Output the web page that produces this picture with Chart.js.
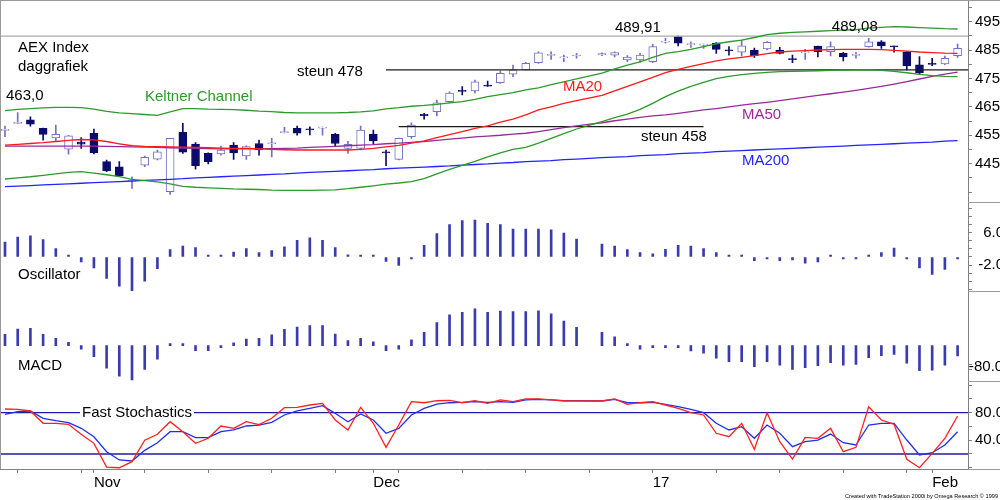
<!DOCTYPE html>
<html>
<head>
<meta charset="utf-8">
<script src="https://cdn.jsdelivr.net/npm/chart.js@4.4.1/dist/chart.umd.min.js"></script>
<style>
  html, body { margin: 0; padding: 0; background: #fff; overflow: hidden; }
  #wrap { width: 1004px; height: 500px; }
</style>
</head>
<body>
<div id="wrap"><canvas id="aex" width="1004" height="500"></canvas></div>
<script>
// AEX Index daily chart, 21 Oct 2016 - 3 Feb 2017
// slot 46 is 26 Dec (exchange closed), so it stays empty

const open = [456.7, 459.2, 460.4, 457.4, 454.1, 450.1, 452.6, 455.7, 445.7, 443.9,
  438.9, 444.5, 446.6, 435.1, 456.0, 451.9, 448.6, 448.4, 451.5, 447.7,
  452.1, 452.0, 455.9, 457.4, 457.3, 457.5, 455.3, 450.4, 450.4, 455.4,
  449.2, 446.5, 454.5, 462.4, 463.3, 466.8, 470.8, 470.6, 472.4, 473.5,
  476.5, 478.0, 480.5, 483.1, 482.2, 482.9, null, 483.3, 483.2, 481.5,
  481.5, 480.9, 487.8, 489.7, 486.9, 486.7, 487.4, 485.0, 484.2, 485.0,
  485.4, 485.0, 482.0, 484.0, 486.4, 484.4, 483.8, 483.1, 486.2, 487.9,
  486.3, 484.4, 479.8, 480.3, 480.1, 483.0];
const high = [458.2, 463.0, 461.5, 457.5, 458.6, 455.0, 454.2, 457.2, 446.3, 445.7,
  440.4, 447.7, 449.8, 453.9, 459.2, 452.4, 448.8, 451.2, 452.4, 451.3,
  453.3, 453.9, 457.8, 458.2, 458.0, 457.9, 455.7, 452.9, 458.2, 456.8,
  449.8, 454.0, 459.4, 462.7, 467.4, 470.3, 472.1, 474.4, 474.1, 477.6,
  479.7, 480.7, 484.4, 484.4, 483.2, 483.8, null, 484.0, 484.4, 483.0,
  483.8, 487.0, 489.1, 489.91, 487.9, 487.1, 487.6, 486.2, 488.5, 485.7,
  488.0, 485.9, 483.2, 485.2, 486.4, 487.9, 484.2, 484.2, 489.08, 488.3,
  486.4, 484.5, 482.7, 482.1, 482.9, 487.1];
const low = [454.5, 459.1, 458.2, 453.3, 452.7, 448.3, 450.4, 448.4, 442.2, 440.4,
  436.3, 443.9, 446.3, 434.2, 448.6, 443.1, 444.9, 448.0, 446.5, 446.5,
  448.0, 447.4, 455.8, 455.0, 455.1, 455.0, 451.0, 448.6, 449.8, 451.9,
  444.3, 446.3, 453.9, 460.7, 461.8, 466.4, 469.2, 469.8, 472.2, 473.2,
  475.6, 478.0, 480.3, 481.7, 480.9, 482.1, null, 483.0, 482.6, 480.9,
  480.7, 480.5, 487.4, 486.4, 485.9, 485.6, 483.8, 483.2, 482.9, 482.4,
  485.0, 483.6, 480.5, 481.7, 482.6, 482.9, 481.2, 482.1, 486.0, 485.6,
  484.2, 478.0, 476.7, 479.5, 479.8, 482.4];
const close = [456.9, 459.3, 458.9, 455.3, 455.3, 454.8, 451.9, 448.8, 442.5, 440.7,
  439.1, 447.2, 449.2, 453.9, 449.0, 444.3, 445.7, 449.8, 448.8, 451.0,
  449.8, 452.2, 456.0, 455.7, 456.9, 457.7, 452.1, 451.8, 456.8, 453.0,
  448.8, 453.9, 458.6, 461.9, 466.4, 469.8, 470.4, 473.8, 472.3, 476.8,
  478.0, 480.3, 484.0, 483.3, 482.6, 483.1, null, 483.7, 484.1, 482.5,
  483.2, 486.2, 488.0, 487.4, 487.1, 486.9, 485.2, 484.7, 486.5, 483.0,
  487.7, 483.8, 481.6, 484.2, 484.4, 486.2, 482.6, 483.3, 487.9, 486.4,
  486.1, 479.4, 476.9, 479.9, 482.1, 485.6];

const keltnerUpper = [463.7, 464.1, 464.4, 464.6, 464.8, 464.8, 464.7, 464.2, 463.4, 462.9,
  462.6, 462.3, 462.0, 463.2, 464.4, 464.4, 464.2, 464.1, 464.0, 463.8,
  463.5, 463.3, 463.0, 462.9, 462.9, 462.9, 462.9, 463.0, 463.2, 463.6,
  464.3, 464.7, 465.2, 465.5, 465.9, 466.4, 466.8, 467.6, 468.6, 469.3,
  470.0, 471.0, 471.7, 472.8, 473.8, 474.8, null, 476.9, 478.4, 479.7,
  480.8, 482.4, 483.8, 484.4, 485.2, 486.2, 487.2, 487.9, 488.5, 489.4,
  490.4, 490.9, 491.2, 491.4, 491.6, 491.8, 492.0, 492.2, 492.7, 493.0,
  493.2, 493.1, 492.9, 492.7, 492.5, 492.4];
const keltnerLower = [439.6, 440.0, 440.4, 440.9, 441.4, 441.9, 442.2, 441.7, 441.1, 440.4,
  439.5, 439.0, 438.6, 437.9, 437.0, 436.7, 436.5, 436.3, 436.1, 436.0,
  435.9, 435.7, 435.6, 435.6, 435.6, 435.7, 435.8, 436.2, 436.7, 437.2,
  437.8, 438.2, 438.7, 439.7, 441.4, 443.0, 444.4, 445.8, 447.4, 448.8,
  450.0, 450.7, 452.2, 453.9, 455.6, 457.2, null, 459.8, 461.2, 462.4,
  464.1, 466.2, 468.6, 470.5, 472.2, 473.6, 474.9, 475.7, 476.3, 476.8,
  477.1, 477.4, 477.5, 477.6, 477.7, 477.8, 477.9, 478.0, 478.0, 477.8,
  477.5, 477.0, 476.4, 476.0, 475.7, 475.6];
const ma20 = [451.5, 451.8, 452.1, 452.4, 452.8, 453.2, 453.5, 453.4, 452.8, 452.0,
  451.3, 451.1, 451.0, 450.9, 450.8, 450.7, 450.6, 450.5, 450.4, 450.4,
  450.2, 450.0, 449.9, 449.8, 449.8, 449.8, 449.8, 449.8, 450.0, 450.4,
  450.9, 451.4, 452.2, 453.0, 454.2, 455.2, 456.3, 457.4, 458.3, 459.6,
  460.7, 462.2, 463.9, 465.0, 466.2, 467.2, null, 469.0, 470.6, 472.2,
  473.8, 475.4, 477.0, 478.2, 479.2, 480.2, 481.2, 481.9, 482.4, 483.0,
  483.7, 484.3, 484.6, 484.8, 485.0, 485.1, 485.2, 485.2, 485.2, 485.1,
  484.9, 484.6, 484.3, 484.1, 483.9, 483.8];
const ma50 = [451.2, 451.2, 451.2, 451.2, 451.2, 451.2, 451.2, 451.2, 451.1, 451.0,
  450.9, 450.8, 450.7, 450.6, 450.5, 450.4, 450.3, 450.2, 450.2, 450.2,
  450.2, 450.3, 450.4, 450.5, 450.7, 450.9, 451.1, 451.3, 451.5, 451.7,
  452.0, 452.2, 452.5, 452.8, 453.2, 453.6, 454.0, 454.4, 454.7, 455.0,
  455.4, 455.7, 456.3, 457.0, 457.7, 458.3, null, 459.4, 460.1, 460.7,
  461.3, 461.8, 462.2, 462.7, 463.3, 463.9, 464.4, 465.0, 465.6, 466.1,
  466.6, 467.2, 467.8, 468.4, 469.0, 469.6, 470.2, 470.8, 471.5, 472.2,
  473.0, 473.9, 474.8, 475.7, 476.5, 477.2];
const ma200 = [436.9, 437.1, 437.3, 437.5, 437.7, 437.9, 438.1, 438.3, 438.5, 438.7,
  438.9, 439.1, 439.3, 439.5, 439.7, 440.0, 440.2, 440.4, 440.6, 440.8,
  441.0, 441.2, 441.4, 441.7, 441.9, 442.1, 442.3, 442.5, 442.7, 442.9,
  443.2, 443.4, 443.6, 443.8, 444.0, 444.2, 444.5, 444.7, 444.9, 445.2,
  445.4, 445.7, 445.9, 446.1, 446.4, 446.6, null, 447.1, 447.3, 447.5,
  447.8, 448.0, 448.2, 448.5, 448.7, 448.9, 449.2, 449.4, 449.6, 449.8,
  450.0, 450.2, 450.4, 450.6, 450.8, 451.0, 451.2, 451.4, 451.6, 451.8,
  452.0, 452.2, 452.4, 452.6, 452.9, 453.1];

// support lines: level, first slot, last slot
const steunLevels = [478, 458];
const steunFrom = [30, 31];
const steunTo = [75.82, 55];
const topLevel = 489.91;

const oscillator = [3.7, 4.9, 5.2, 4.3, 2.1, 0.3, -1.2, -2.7, -5.3, -7.2,
  -8.6, -6.0, -2.9, 1.8, 2.7, 2.3, 0.4, 0.3, 1.2, 2.1,
  1.1, 1.6, 2.5, 4.1, 4.7, 4.1, 2.3, 0.5, 0.2, 0.2,
  -1.1, -2.1, -0.4, 2.9, 5.8, 8.0, 9.0, 9.1, 8.3, 8.0,
  6.9, 6.9, 6.9, 6.7, 5.9, 4.4, null, 3.2, 2.7, 1.8,
  1.1, 0.8, 1.9, 2.9, 2.7, 2.1, 1.1, 0.3, 0.2, -0.9,
  -0.4, -0.9, -0.7, -1.5, -1.2, 0.2, -0.1, -0.4, 0.1, 1.1,
  2.2, -0.2, -2.7, -4.3, -3.1, -0.2];
const macd = [43, 63, 66, 43, 28, 13, -13, -42, -86, -116,
  -131, -90, -51, 3, 3, -19, -19, -2, 11, 25,
  28, 41, 62, 71, 76, 76, 44, 19, 28, 15,
  -19, -13, 22, 51, 88, 117, 127, 140, 127, 132,
  130, 130, 133, 121, 94, 70, null, 51, 34, 6,
  -13, -3, -2, -4, -20, -29, -48, -61, -61, -80,
  -61, -74, -90, -84, -76, -65, -74, -71, -46, -38,
  -33, -67, -95, -93, -74, -39];
const stochK = [85.4, 84.9, 82.5, 64.6, 64.6, 63.1, 48.6, 35.5, 1.0, 0.0,
  8.8, 40.0, 48.6, 66.9, 52.4, 35.5, 42.8, 60.7, 57.3, 66.9,
  62.6, 71.9, 87.3, 87.8, 91.2, 93.6, 69.4, 54.9, 87.8, 64.6,
  29.7, 62.1, 96.0, 94.5, 97.4, 97.9, 94.5, 97.4, 93.6, 98.5,
  96.0, 100.0, 100.0, 98.5, 97.0, 97.0, null, 97.0, 100.0, 92.2,
  94.5, 96.0, 91.2, 86.4, 80.0, 76.7, 50.1, 45.1, 64.6, 26.8,
  80.0, 37.9, 12.7, 44.2, 42.8, 57.3, 23.3, 29.7, 88.7, 69.4,
  63.1, 12.3, 0.0, 21.0, 42.8, 75.2];
const stochD = [77.7, 81.5, 82.5, 71.9, 68.4, 65.5, 57.3, 45.1, 23.3, 11.3,
  9.8, 25.3, 36.4, 52.4, 52.4, 43.7, 43.7, 52.4, 54.9, 60.7,
  62.1, 66.0, 76.7, 82.5, 86.4, 90.2, 79.1, 66.9, 78.1, 69.4,
  50.1, 57.3, 76.7, 86.4, 92.6, 94.5, 95.0, 96.0, 95.0, 96.0,
  95.0, 98.5, 99.5, 98.5, 97.5, 97.5, null, 97.0, 99.5, 94.5,
  94.5, 95.0, 92.2, 88.7, 84.9, 80.0, 64.6, 54.9, 59.7, 42.8,
  62.1, 50.1, 30.6, 37.9, 40.3, 49.0, 36.4, 33.1, 62.1, 64.6,
  64.6, 40.3, 18.5, 21.9, 33.1, 52.4];
const stochBands = [80, 20];

// x axis: Monday ticks and month starts (slot numbers)
const weekTicks = [1, 6, 11, 16, 21, 26, 31, 36, 41, 46, 51, 56, 61, 66, 71];
const monthTicks = [7, 29, 51, 73];
const monthNames = ['Nov', 'Dec', '17', 'Feb'];

const navy = '#0b0b6e';
const upBlue = '#7272c4';
const barBlue = '#3b3bb0';
const green = '#2b9b2b';
const X_MIN = -0.394, X_MAX = 75.82;

Chart.defaults.font.family = "'Liberation Sans', Arial, sans-serif";
Chart.defaults.font.size = 15;
Chart.defaults.color = '#000';

const pts = arr => arr.map((v, i) => ({ x: i, y: v }));
const isUp = close.map((c, i) => c !== null && c >= open[i]);

function lineSet(values, color, axis, width) {
  return {
    type: 'line', data: pts(values), yAxisID: axis, borderColor: color,
    borderWidth: width || 1.3, pointRadius: 0, spanGaps: true, tension: 0, order: 0
  };
}
function flat(level, from, to, color, axis, width) {
  return {
    type: 'line', data: [{ x: from, y: level }, { x: to, y: level }], yAxisID: axis,
    borderColor: color, borderWidth: width || 1.3, pointRadius: 0, order: 1
  };
}

const datasets = [
  // candle bodies
  {
    type: 'bar', yAxisID: 'yPrice', order: 2, grouped: false,
    data: open.map((o, i) => ({ x: i, y: o === null ? null : [o, close[i]] })),
    backgroundColor: isUp.map(u => u ? '#ffffff' : navy),
    borderColor: isUp.map(u => u ? upBlue : navy),
    borderWidth: 1, borderSkipped: false, barThickness: 8, minBarLength: 1
  },
  // wicks
  {
    type: 'bar', yAxisID: 'yPrice', order: 3, grouped: false,
    data: low.map((l, i) => ({ x: i, y: l === null ? null : [l, high[i]] })),
    backgroundColor: isUp.map(u => u ? upBlue : navy),
    barThickness: 1
  },
  lineSet(keltnerUpper, green, 'yPrice'),
  lineSet(keltnerLower, green, 'yPrice'),
  lineSet(ma20, '#ff1a1a', 'yPrice'),
  lineSet(ma50, '#9a2a9a', 'yPrice'),
  lineSet(ma200, '#2424ff', 'yPrice'),
  flat(topLevel, X_MIN, X_MAX, '#a8a8a8', 'yPrice', 1.2),
  flat(steunLevels[0], steunFrom[0], steunTo[0], '#1a1a1a', 'yPrice', 1.2),
  flat(steunLevels[1], steunFrom[1], steunTo[1], '#1a1a1a', 'yPrice', 1.2),
  {
    type: 'bar', yAxisID: 'yOsc', order: 2, grouped: false, data: pts(oscillator),
    backgroundColor: barBlue, barThickness: 2, minBarLength: 2
  },
  {
    type: 'bar', yAxisID: 'yMacd', order: 2, grouped: false, data: pts(macd),
    backgroundColor: barBlue, barThickness: 2, minBarLength: 2
  },
  flat(stochBands[0], X_MIN, X_MAX, '#1c1ca6', 'yStoch'),
  flat(stochBands[1], X_MIN, X_MAX, '#1c1ca6', 'yStoch'),
  lineSet(stochK, '#ff2020', 'yStoch'),
  lineSet(stochD, '#2030e8', 'yStoch')
];

// text on the chart, anchored at (slot, value) of a panel axis
const notes = [
  { t: 'AEX Index', i: 1.02, v: 485.7, axis: 'yPrice', c: '#000' },
  { t: 'daggrafiek', i: 1.02, v: 479.0, axis: 'yPrice', c: '#000' },
  { t: '463,0', i: 0.08, v: 468.8, axis: 'yPrice', c: '#000' },
  { t: 'Keltner Channel', i: 11.02, v: 468.4, axis: 'yPrice', c: green },
  { t: 'steun 478', i: 22.99, v: 477.2, axis: 'yPrice', c: '#000' },
  { t: '489,91', i: 48.02, v: 492.7, axis: 'yPrice', c: '#000' },
  { t: 'MA20', i: 43.93, v: 472.0, axis: 'yPrice', c: '#ff1a1a' },
  { t: '489,08', i: 65.1, v: 493.1, axis: 'yPrice', c: '#000' },
  { t: 'MA50', i: 58.02, v: 462.1, axis: 'yPrice', c: '#9a2a9a' },
  { t: 'steun 458', i: 50.07, v: 454.4, axis: 'yPrice', c: '#000' },
  { t: 'MA200', i: 58.02, v: 445.9, axis: 'yPrice', c: '#2424ff' },
  { t: 'Oscillator', i: 1.02, v: -4.4, axis: 'yOsc', c: '#000' },
  { t: 'MACD', i: 1.02, v: -77.3, axis: 'yMacd', c: '#000' },
  { t: 'Fast Stochastics', i: 6.06, v: 80.3, axis: 'yStoch', c: '#000', bg: true }
];

const decorate = {
  id: 'decorate',
  afterDatasetsDraw(chart) {
    const { ctx, chartArea, scales } = chart;
    ctx.save();
    ctx.strokeStyle = '#9a9a9a';
    ctx.lineWidth = 1;
    ctx.beginPath();
    ctx.moveTo(0, 0.5); ctx.lineTo(1000, 0.5);
    ctx.moveTo(0.5, 0); ctx.lineTo(0.5, chartArea.bottom);
    ['yOsc', 'yMacd', 'yStoch'].forEach(id => {
      const s = scales[id];
      ctx.moveTo(s.left, Math.round(s.top) + 0.5);
      ctx.lineTo(1000, Math.round(s.top) + 0.5);
    });
    ctx.moveTo(chartArea.right, chartArea.bottom + 0.5); ctx.lineTo(1000, chartArea.bottom + 0.5);
    ctx.stroke();

    ctx.font = "15px 'Liberation Sans', Arial, sans-serif";
    ctx.textBaseline = 'middle';
    ctx.textAlign = 'left';
    notes.forEach(n => {
      const x = scales.x.getPixelForValue(n.i);
      const y = scales[n.axis].getPixelForValue(n.v);
      if (n.bg) {
        const w = ctx.measureText(n.t).width;
        ctx.fillStyle = '#fff';
        ctx.fillRect(x - 2, y - 8, w + 4, 16);
      }
      ctx.fillStyle = n.c;
      ctx.fillText(n.t, x, y);
    });

    ctx.font = "6px 'Liberation Sans', Arial, sans-serif";
    ctx.fillStyle = '#000';
    ctx.textAlign = 'right';
    ctx.fillText('Created with TradeStation 2000i by Omega Research \u00A9 1999', 998, 496, 153);
    ctx.restore();
  }
};

function yAxis(weight, min, max, tickValues, labelled, digits, extra) {
  return Object.assign({
    type: 'linear', position: 'right', stack: 'panels', stackWeight: weight,
    min: min, max: max,
    afterBuildTicks: s => { s.ticks = tickValues.map(v => ({ value: v })); },
    afterFit: s => { s.width = 36; s.paddingTop = 0; s.paddingBottom = 0; },
    grid: { drawOnChartArea: false, tickLength: 4, color: '#808080' },
    border: { color: '#808080' },
    ticks: {
      autoSkip: false, padding: 3,
      callback: v => labelled.includes(v) ? v.toFixed(digits) : ''
    }
  }, extra || {});
}

// one tick per slot, month starts win over Mondays
const xTicks = Array.from(new Set(weekTicks.concat(monthTicks))).sort((a, b) => a - b);

new Chart(document.getElementById('aex'), {
  type: 'bar',
  data: { datasets },
  plugins: [decorate],
  options: {
    responsive: false,
    animation: false,
    events: [],
    layout: { padding: 0 },
    plugins: { legend: { display: false }, tooltip: { enabled: false } },
    scales: {
      x: {
        type: 'linear', min: X_MIN, max: X_MAX, offset: false,
        afterBuildTicks: s => { s.ticks = xTicks.map(v => ({ value: v })); },
        afterFit: s => { s.height = 31; s.paddingLeft = 0; s.paddingRight = 0; },
        grid: { drawOnChartArea: false, offset: false, tickLength: 4, color: '#808080' },
        border: { color: '#808080' },
        ticks: {
          autoSkip: false, maxRotation: 0, align: 'start', padding: 1,
          callback: v => {
            const k = monthTicks.indexOf(v);
            return k >= 0 ? monthNames[k] : '';
          }
        }
      },
      yPrice: yAxis(202.3, 431.4, 502.6,
        [435, 440, 445, 450, 455, 460, 465, 470, 475, 480, 485, 490, 495, 500],
        [445, 455, 465, 475, 485, 495], 0),
      yOsc: yAxis(88.7, -8.4, 13.5, [-8, -6, -4, -2, 0, 2, 4, 6, 8, 10, 12], [-2, 6], 1,
        { ticks: { autoSkip: false, padding: 0, crossAlign: 'far',
          callback: v => [-2, 6].includes(v) ? v.toFixed(1) : '' } }),
      yMacd: yAxis(89.5, -132.6, 208, [-90, -80, -70], [-80], 1,
        { ticks: { autoSkip: false, padding: -3,
          callback: v => v === -80 ? v.toFixed(1) : '' } }),
      yStoch: yAxis(88.5, -1.8, 126.8, [0, 20, 40, 60, 80, 100, 120], [40, 80], 1)
    }
  }
});
</script>
</body>
</html>
